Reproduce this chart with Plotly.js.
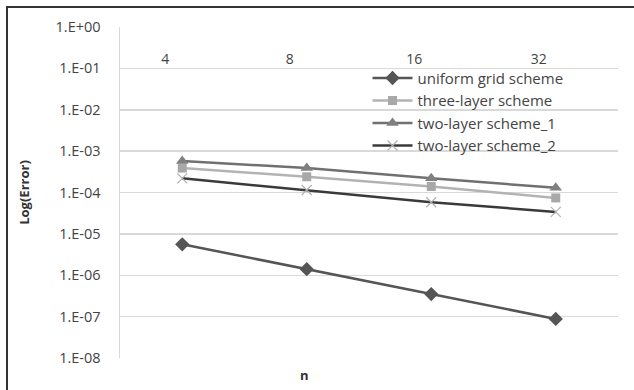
<!DOCTYPE html>
<html>
<head>
<meta charset="utf-8">
<script src="https://cdn.plot.ly/plotly-3.0.1.min.js"></script>
<style>
  html, body { margin: 0; padding: 0; background: #fff; overflow: hidden; }
  #frame { position: absolute; left: 6px; top: 6px; width: 700px; height: 420px;
           border-top: 2px solid #333; border-left: 2px solid #333; pointer-events: none; }
  #chart { position: absolute; left: 0; top: 0; width: 634px; height: 390px; }
</style>
</head>
<body>
<div id="chart"></div>
<div id="frame"></div>
<script>
// ---- data ----
const categories = ["4", "8", "16", "32"];
const uniformGrid = [5.6e-6, 1.4e-6, 3.5e-7, 8.8e-8];
const threeLayer = [3.9e-4, 2.4e-4, 1.4e-4, 7.4e-5];
const twoLayer1 = [5.8e-4, 3.9e-4, 2.2e-4, 1.3e-4];
const twoLayer2 = [2.2e-4, 1.15e-4, 5.8e-5, 3.4e-5];
const seriesNames = ["uniform grid scheme", "three-layer scheme", "two-layer scheme_1", "two-layer scheme_2"];
const yTickVals = [1, 1e-1, 1e-2, 1e-3, 1e-4, 1e-5, 1e-6, 1e-7, 1e-8];
const yTickText = ["1.E+00", "1.E-01", "1.E-02", "1.E-03", "1.E-04", "1.E-05", "1.E-06", "1.E-07", "1.E-08"];

const FONT = "'Open Sans', sans-serif";

const traces = [
  { x: categories, y: uniformGrid, name: seriesNames[0], type: "scatter", mode: "lines+markers",
    line: { color: "#555555", width: 2.5 },
    marker: { symbol: "diamond", size: 11, color: "#555555" } },
  { x: categories, y: threeLayer, name: seriesNames[1], type: "scatter", mode: "lines+markers",
    line: { color: "#b3b3b3", width: 2.5 },
    marker: { symbol: "square", size: 9, color: "#a8a8a8" } },
  { x: categories, y: twoLayer1, name: seriesNames[2], type: "scatter", mode: "lines+markers",
    line: { color: "#707070", width: 2.5 },
    marker: { symbol: "triangle-up", size: 11, color: "#808080" } },
  { x: categories, y: twoLayer2, name: seriesNames[3], type: "scatter", mode: "lines+markers",
    line: { color: "#3a3a3a", width: 2.5 },
    marker: { symbol: "x-thin", size: 10, color: "#b0b0b0", line: { color: "#b0b0b0", width: 1.2 } } }
];

const layout = {
  width: 634, height: 390,
  margin: { l: 120, r: 16, t: 27, b: 32 },
  paper_bgcolor: "#ffffff", plot_bgcolor: "#ffffff",
  font: { family: FONT, size: 13, color: "#444444" },
  showlegend: true,
  legend: { x: 0.497, y: 0.895, xanchor: "left", yanchor: "top", bgcolor: "rgba(0,0,0,0)",
            font: { family: FONT, size: 15, color: "#444444" }, tracegroupgap: 0,
            itemwidth: 40 },
  xaxis: {
    type: "category", range: [-0.5, 3.5],
    anchor: "free", position: 0.934, side: "bottom",
    showline: false, showgrid: false, zeroline: false, ticks: "",
    ticklabelshift: -17,
    tickfont: { family: FONT, size: 14, color: "#444444" }
  },
  yaxis: {
    type: "log", range: [-8, 0],
    tickvals: yTickVals, ticktext: yTickText,
    showgrid: true, gridcolor: "#d9d9d9", gridwidth: 1.5,
    showline: true, linecolor: "#d9d9d9", linewidth: 1.5,
    zeroline: false, ticks: "", ticklabelstandoff: 15,
    tickfont: { family: FONT, size: 14.5, color: "#444444" },
    title: { text: "<b>Log(Error)</b>", standoff: 23, font: { family: FONT, size: 13, color: "#333333" } }
  },
  annotations: [
    { text: "<b>n</b>", xref: "paper", yref: "paper", x: 0.37, y: -0.051, xanchor: "center", yanchor: "middle",
      showarrow: false, font: { family: FONT, size: 13, color: "#333333" } }
  ]
};

Plotly.newPlot("chart", traces, layout, { displayModeBar: false, staticPlot: true });
</script>
</body>
</html>
